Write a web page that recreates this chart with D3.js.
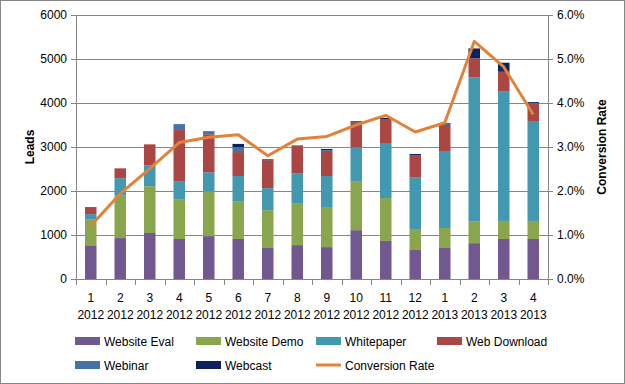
<!DOCTYPE html>
<html>
<head>
<meta charset="utf-8">
<script src="https://cdn.jsdelivr.net/npm/d3@7"></script>
<style>
    body { margin: 0; background: #fff; }
    svg { font-family: "Liberation Sans", Arial, sans-serif; }
    .axis text { font-size: 12px; fill: #000; }
    .axis path, .axis line { stroke: #868686; }
    .legend text { font-size: 12px; }
</style>
</head>
<body>
<div id="vis"></div>
<script>
    var months = ["1", "2", "3", "4", "5", "6", "7", "8", "9", "10", "11", "12", "1", "2", "3", "4"];
    var years = ["2012", "2012", "2012", "2012", "2012", "2012", "2012", "2012", "2012", "2012", "2012", "2012",
        "2013", "2013", "2013", "2013"];

    var websiteEval = [750, 930, 1045, 910, 975, 910, 705, 770, 725, 1110, 865, 660, 705, 815, 910, 910];
    var websiteDemo = [610, 975, 1065, 905, 1020, 860, 860, 955, 910, 1115, 975, 475, 455, 500, 410, 410];
    var whitepaper = [115, 385, 475, 410, 430, 570, 500, 680, 705, 770, 1250, 1180, 1750, 3270, 2950, 2270];
    var webDownload = [160, 225, 475, 1160, 865, 545, 635, 620, 570, 565, 545, 500, 590, 430, 440, 410];
    var webinar = [0, 0, 0, 135, 70, 115, 0, 15, 20, 0, 0, 0, 30, 0, 0, 0];
    var webcast = [0, 0, 0, 0, 0, 70, 20, 0, 25, 25, 25, 25, 15, 225, 205, 20];
    var conversionRate = [1.21, 1.94, 2.51, 3.10, 3.22, 3.28, 2.80, 3.18, 3.24, 3.50, 3.72, 3.34, 3.55, 5.40, 4.82, 3.74];

    var seriesNames = ["Website Eval", "Website Demo", "Whitepaper", "Web Download", "Webinar", "Webcast"];
    var seriesColors = ["#71588F", "#89A54E", "#4198AF", "#AA4643", "#4572A7", "#0B2161"];
    var seriesData = [websiteEval, websiteDemo, whitepaper, webDownload, webinar, webcast];
    var lineColor = "#E0823A";

    var width = 625,
        height = 384;

    var margin = { left: 76, right: 77, top: 15, bottom: 105 };
    var plotW = width - margin.left - margin.right,
        plotH = height - margin.top - margin.bottom;

    var svg = d3.select("#vis").append("svg")
        .attr("width", width)
        .attr("height", height);

    svg.append("rect")
        .attr("x", 0.5).attr("y", 0.5)
        .attr("width", width - 1).attr("height", height - 1)
        .attr("fill", "#fff")
        .attr("stroke", "#868686");

    var table = d3.range(months.length).map(function(i) {
        var row = { i: i };
        seriesNames.forEach(function(n, k) { row[n] = seriesData[k][i]; });
        return row;
    });

    var x = d3.scaleBand()
        .domain(d3.range(months.length))
        .range([0, plotW])
        .paddingInner(0.61)
        .paddingOuter(0.305);

    var y = d3.scaleLinear().domain([0, 6000]).range([plotH, 0]);
    var y2 = d3.scaleLinear().domain([0, 6]).range([plotH, 0]);

    var g = svg.append("g")
        .attr("transform", "translate(" + margin.left + "," + margin.top + ")");

    // gridlines
    g.append("g")
        .selectAll("line")
        .data(y.ticks(6).filter(function(d) { return d > 0; }))
        .enter().append("line")
        .attr("x1", 0).attr("x2", plotW)
        .attr("y1", function(d) { return Math.round(y(d)) + 0.5; })
        .attr("y2", function(d) { return Math.round(y(d)) + 0.5; })
        .attr("stroke", "#868686");

    var stack = d3.stack().keys(seriesNames);
    var layers = stack(table);

    g.selectAll(".layer")
        .data(layers)
        .enter().append("g")
        .attr("class", "layer")
        .attr("fill", function(d, k) { return seriesColors[k]; })
        .selectAll("rect")
        .data(function(d) { return d; })
        .enter().append("rect")
        .attr("x", function(d) { return x(d.data.i); })
        .attr("width", x.bandwidth())
        .attr("y", function(d) { return y(d[1]); })
        .attr("height", function(d) { return y(d[0]) - y(d[1]); });

    // left axis
    var leftAxis = g.append("g")
        .attr("class", "axis")
        .call(d3.axisLeft(y).tickValues(d3.range(0, 6001, 1000)).tickSize(5).tickPadding(4).tickFormat(d3.format("d")));
    leftAxis.select(".domain").attr("d", "M0.5,0V" + plotH);

    // right axis
    var rightAxis = g.append("g")
        .attr("class", "axis")
        .attr("transform", "translate(" + plotW + ",0)")
        .call(d3.axisRight(y2).tickValues(d3.range(0, 7, 1)).tickSize(5).tickPadding(4)
            .tickFormat(function(d) { return d.toFixed(1) + "%"; }));
    rightAxis.select(".domain").attr("d", "M0.5,0V" + plotH);

    // bottom axis
    var bottom = g.append("g")
        .attr("class", "axis")
        .attr("transform", "translate(0," + plotH + ")");
    bottom.append("line")
        .attr("x1", 0).attr("x2", plotW)
        .attr("y1", 0.5).attr("y2", 0.5)
        .attr("stroke", "#868686");
    bottom.selectAll(".tickmark")
        .data(d3.range(months.length + 1))
        .enter().append("line")
        .attr("class", "tickmark")
        .attr("x1", function(i) { return Math.round(i * x.step()) + 0.5; })
        .attr("x2", function(i) { return Math.round(i * x.step()) + 0.5; })
        .attr("y1", 0).attr("y2", 6);
    var labels = bottom.selectAll(".lbl")
        .data(d3.range(months.length))
        .enter().append("text")
        .attr("class", "lbl")
        .attr("text-anchor", "middle")
        .attr("x", function(i) { return x(i) + x.bandwidth() / 2; });
    labels.append("tspan").attr("x", function(i) { return x(i) + x.bandwidth() / 2; })
        .attr("y", 23).text(function(i) { return months[i]; });
    labels.append("tspan").attr("x", function(i) { return x(i) + x.bandwidth() / 2; })
        .attr("y", 40).text(function(i) { return years[i]; });

    // conversion line
    var line = d3.line()
        .x(function(d, i) { return x(i) + x.bandwidth() / 2; })
        .y(function(d) { return y2(d); });

    g.append("path")
        .datum(conversionRate)
        .attr("d", line)
        .attr("fill", "none")
        .attr("stroke", lineColor)
        .attr("stroke-width", 3)
        .attr("stroke-linejoin", "round");

    // axis titles
    svg.append("text")
        .attr("transform", "translate(34," + (margin.top + plotH / 2) + ") rotate(-90)")
        .attr("text-anchor", "middle")
        .style("font-weight", "bold")
        .style("font-size", "12px")
        .text("Leads");

    svg.append("text")
        .attr("transform", "translate(606," + (margin.top + plotH / 2) + ") rotate(-90)")
        .attr("text-anchor", "middle")
        .style("font-weight", "bold")
        .style("font-size", "12px")
        .text("Conversion Rate");

    // legend
    var legendItems = seriesNames.map(function(n, k) { return { name: n, color: seriesColors[k], type: "rect" }; });
    legendItems.push({ name: "Conversion Rate", color: lineColor, type: "line" });
    var colX = [75, 196, 316, 437];
    var rowY = [341, 365];

    var legend = svg.append("g").attr("class", "legend");
    var item = legend.selectAll("g")
        .data(legendItems)
        .enter().append("g")
        .attr("transform", function(d, i) {
            return "translate(" + colX[i % 4] + "," + rowY[Math.floor(i / 4)] + ")";
        });
    item.filter(function(d) { return d.type === "rect"; })
        .append("rect")
        .attr("x", 0).attr("y", -4)
        .attr("width", 25).attr("height", 8)
        .attr("fill", function(d) { return d.color; });
    item.filter(function(d) { return d.type === "line"; })
        .append("line")
        .attr("x1", 0).attr("x2", 25)
        .attr("y1", 0).attr("y2", 0)
        .attr("stroke", function(d) { return d.color; })
        .attr("stroke-width", 3);
    item.append("text")
        .attr("x", 29).attr("y", 4.5)
        .text(function(d) { return d.name; });
</script>
</body>
</html>
